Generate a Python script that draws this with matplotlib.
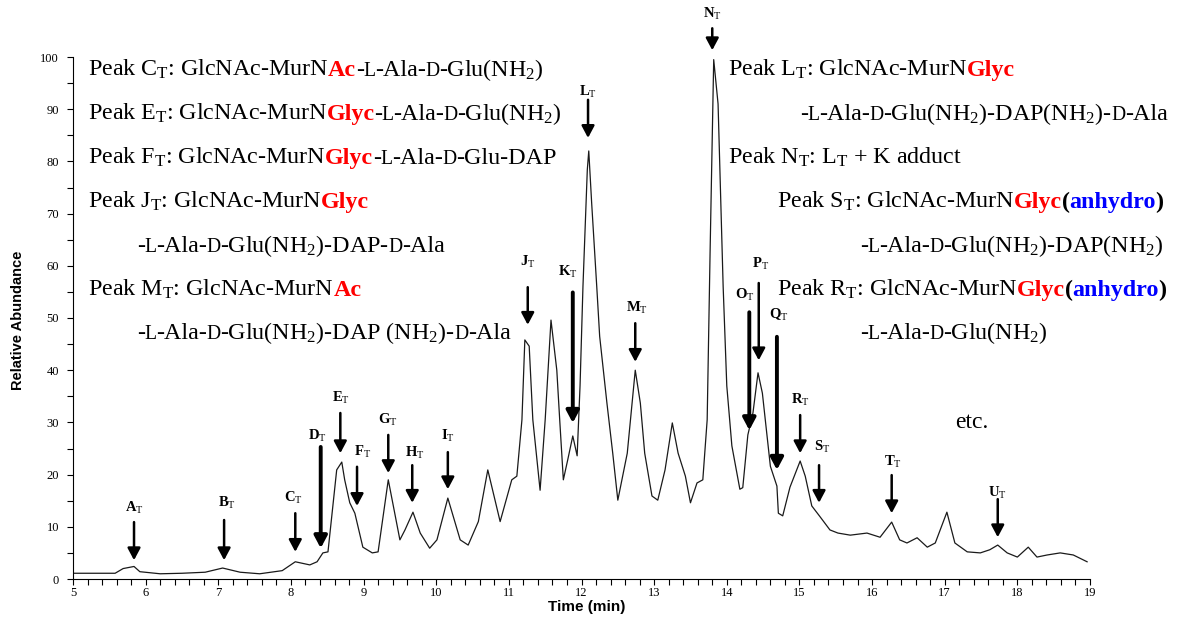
import matplotlib
matplotlib.use('Agg')
import matplotlib.pyplot as plt
from matplotlib.ticker import MultipleLocator

plt.rcParams['font.family'] = ['Liberation Serif', 'DejaVu Serif']
plt.rcParams['mathtext.fontset'] = 'custom'
plt.rcParams['mathtext.rm'] = 'Liberation Serif'
plt.rcParams['mathtext.it'] = 'Liberation Serif:italic'
plt.rcParams['mathtext.bf'] = 'Liberation Serif:bold'

# chromatogram trace (time in min, relative abundance)
time_min = [5.00, 5.58, 5.69, 5.84, 5.92, 6.20, 6.50, 6.82, 7.06, 7.30, 7.57, 7.88,
            8.06, 8.26, 8.36, 8.44, 8.51, 8.63, 8.70, 8.74, 8.81, 8.88, 8.99, 9.12,
            9.20, 9.34, 9.50, 9.57, 9.68, 9.78, 9.91, 10.01, 10.16, 10.33, 10.44, 10.58,
            10.71, 10.88, 11.04, 11.11, 11.18, 11.22, 11.28, 11.33, 11.43, 11.50, 11.58, 11.66,
            11.70, 11.75, 11.81, 11.88, 11.94, 11.98, 12.02, 12.08, 12.10, 12.14, 12.21, 12.25,
            12.35, 12.43, 12.50, 12.63, 12.74, 12.81, 12.87, 12.97, 13.05, 13.15, 13.25, 13.33,
            13.43, 13.50, 13.59, 13.67, 13.73, 13.77, 13.82, 13.88, 13.95, 14.00, 14.07, 14.18,
            14.22, 14.29, 14.36, 14.43, 14.49, 14.53, 14.60, 14.69, 14.71, 14.77, 14.87, 15.01,
            15.08, 15.17, 15.28, 15.42, 15.53, 15.70, 15.93, 16.11, 16.27, 16.38, 16.48, 16.62,
            16.76, 16.87, 17.03, 17.14, 17.31, 17.49, 17.62, 17.73, 17.86, 18.00, 18.15, 18.27,
            18.41, 18.59, 18.77, 18.96]
abundance = [1.1, 1.1, 2.0, 2.4, 1.4, 1.0, 1.1, 1.3, 2.1, 1.3, 1.0, 1.6,
             3.3, 2.7, 3.3, 5.0, 5.2, 20.9, 22.4, 19.0, 14.6, 12.6, 6.1, 5.0,
             5.2, 19.0, 7.5, 9.4, 12.8, 8.8, 5.9, 7.5, 15.5, 7.5, 6.5, 11.0,
             20.9, 11.0, 19.0, 19.7, 30.5, 45.8, 44.6, 30.5, 17.0, 30.5, 49.6, 40.0,
             30.5, 19.0, 22.8, 27.4, 23.6, 37.0, 56.0, 78.4, 82.0, 72.0, 56.0, 46.5,
             33.7, 24.1, 15.1, 24.1, 40.0, 33.7, 24.1, 15.9, 15.1, 20.9, 29.9, 24.1,
             19.7, 14.6, 18.4, 19.0, 30.5, 62.5, 99.5, 91.0, 56.0, 37.0, 25.5, 17.2,
             17.5, 27.6, 31.8, 39.5, 35.6, 30.5, 21.6, 17.8, 12.6, 12.1, 17.6, 22.6,
             19.7, 14.0, 12.0, 9.4, 8.8, 8.4, 8.8, 8.0, 10.9, 7.5, 6.9, 7.9,
             6.1, 6.9, 12.8, 6.9, 5.2, 5.0, 5.6, 6.5, 5.0, 4.2, 6.1, 4.2,
             4.6, 5.0, 4.6, 3.3]

# peak markers: name, arrow time, arrow top / tip level, label time / level
peak_names = list('ABCDEFGHIJKLMNOPQRSTU')
peak_time = [5.84, 7.08, 8.06, 8.41, 8.68, 8.91, 9.34, 9.67, 10.16, 11.26, 11.88,
             12.09, 12.74, 13.80, 14.31, 14.44, 14.69, 15.01, 15.27, 16.27, 17.73]
arrow_top = [10.9, 11.3, 12.6, 25.3, 31.8, 21.5, 27.6, 21.8, 24.3, 55.9, 54.9,
             91.8, 49.0, 105.5, 51.1, 56.7, 46.4, 31.4, 21.8, 19.9, 15.3]
arrow_tip = [3.6, 3.6, 5.2, 5.9, 24.1, 14.0, 20.3, 14.6, 17.2, 48.7, 29.9,
             84.5, 41.6, 101.3, 28.5, 41.9, 20.9, 24.1, 14.6, 12.6, 8.0]
label_time = [5.84, 7.12, 8.03, 8.37, 8.69, 8.99, 9.34, 9.71, 10.16, 11.26, 11.81,
              12.09, 12.76, 13.80, 14.25, 14.46, 14.71, 15.01, 15.31, 16.29, 17.73]
label_level = [13.6, 14.6, 15.5, 27.4, 34.7, 24.3, 30.5, 24.1, 27.4, 60.7, 58.8,
               93.3, 51.9, 108.2, 54.4, 60.3, 50.6, 34.3, 25.3, 22.4, 16.5]
thick_arrows = ['D', 'K', 'O', 'Q']

W, H = 1184, 618
fig = plt.figure(figsize=(W / 100, H / 100), dpi=100)
ax = fig.add_axes([73 / W, 1 - 579 / H, (1090 - 73) / W, (579 - 57) / H])

ax.plot(time_min, abundance, color='#1a1a1a', lw=0.9)

for name, t, top, tip, lt, lv in zip(peak_names, peak_time, arrow_top, arrow_tip,
                                     label_time, label_level):
    lw = 2.8 if name in thick_arrows else 1.8
    ax.annotate('', xy=(t, tip), xytext=(t, top), annotation_clip=False,
                arrowprops=dict(arrowstyle='-|>,head_length=0.6,head_width=0.32',
                                lw=lw, color='black', shrinkA=0, shrinkB=0,
                                mutation_scale=12))
    ax.text(lt, lv, name + r'$_\mathrm{T}$', ha='center', va='center', fontsize=10.5,
            fontweight='bold', clip_on=False)

ax.set_xlim(5, 19)
ax.set_ylim(0, 100)
ax.spines[['top', 'right']].set_visible(False)
ax.xaxis.set_major_locator(MultipleLocator(1))
ax.xaxis.set_minor_locator(MultipleLocator(0.2))
ax.yaxis.set_major_locator(MultipleLocator(10))
ax.yaxis.set_minor_locator(MultipleLocator(5))
ax.tick_params(which='both', direction='out', length=4, width=0.8, labelsize=9)
ax.tick_params(axis='y', pad=6)
ax.tick_params(axis='x', pad=2)

fig.text(18 / W, 1 - 320 / H, 'Relative Abundance', rotation=90, ha='center', va='center',
         family='Liberation Sans', fontweight='bold', fontsize=10.5)
fig.text(587 / W, 1 - 607 / H, 'Time (min)', ha='center', va='center',
         family='Liberation Sans', fontweight='bold', fontsize=11)

# multi-coloured annotation lines
renderer = fig.canvas.get_renderer()
SIZE = 17.3
RED, BLUE = '#ff0000', '#0000ff'


def seg(s, color='black', weight='normal', scale=1.0):
    return (s, color, weight, scale)


def write_line(x, y, parts):
    for s, color, weight, scale in parts:
        t = fig.text(x / W, 1 - y / H, s, color=color, fontweight=weight,
                     fontsize=SIZE * scale, va='baseline', ha='left')
        x += t.get_window_extent(renderer).width - 0.5


SC = 0.82
ala_glu = [seg('-'), seg('L', scale=SC), seg('-Ala-'), seg('D', scale=SC)]
glyc = seg('Glyc', RED, 'bold')
ac = seg('Ac', RED, 'bold')
anhydro = [seg('(', weight='bold'), seg('anhydro', BLUE, 'bold'), seg(')', weight='bold')]

write_line(88, 76, [seg(r'Peak C$_\mathrm{T}$: GlcNAc-MurN'), ac] + ala_glu
           + [seg(r'-Glu(NH$_2$)')])
write_line(88, 120, [seg(r'Peak E$_\mathrm{T}$: GlcNAc-MurN'), glyc] + ala_glu
           + [seg(r'-Glu(NH$_2$)')])
write_line(88, 164, [seg(r'Peak F$_\mathrm{T}$: GlcNAc-MurN'), glyc] + ala_glu
           + [seg('-Glu-DAP')])
write_line(88, 208, [seg(r'Peak J$_\mathrm{T}$: GlcNAc-MurN'), glyc])
write_line(137, 252, ala_glu + [seg(r'-Glu(NH$_2$)-DAP-'), seg('D', scale=SC), seg('-Ala')])
write_line(88, 296, [seg(r'Peak M$_\mathrm{T}$: GlcNAc-MurN'), ac])
write_line(137, 339, ala_glu + [seg(r'-Glu(NH$_2$)-DAP (NH$_2$)-'), seg('D', scale=SC),
                                seg('-Ala')])

write_line(728, 76, [seg(r'Peak L$_\mathrm{T}$: GlcNAc-MurN'), glyc])
write_line(800, 120, ala_glu + [seg(r'-Glu(NH$_2$)-DAP(NH$_2$)-'), seg('D', scale=SC),
                                seg('-Ala')])
write_line(728, 164, [seg(r'Peak N$_\mathrm{T}$: L$_\mathrm{T}$ + K adduct')])
write_line(777, 208, [seg(r'Peak S$_\mathrm{T}$: GlcNAc-MurN'), glyc] + anhydro)
write_line(860, 252, ala_glu + [seg(r'-Glu(NH$_2$)-DAP(NH$_2$)')])
write_line(777, 296, [seg(r'Peak R$_\mathrm{T}$: GlcNAc-MurN'), glyc] + anhydro)
write_line(860, 339, ala_glu + [seg(r'-Glu(NH$_2$)')])

fig.text(955 / W, 1 - 428 / H, 'etc.', fontsize=17, va='baseline', ha='left')

fig.savefig('out.png', dpi=100)
